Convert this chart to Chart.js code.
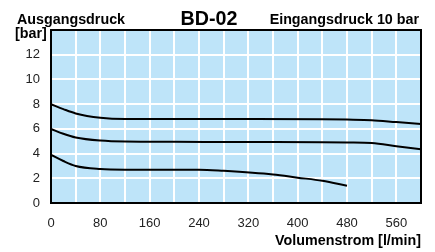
<!DOCTYPE html>
<html><head><meta charset="utf-8">
<script src="https://cdn.jsdelivr.net/npm/chart.js@4/dist/chart.umd.min.js"></script>
<style>html,body{margin:0;padding:0;background:#fff}#wrap{width:435px;height:252px;position:relative}</style>
</head><body><div id="wrap"><canvas id="c" width="435" height="252"></canvas></div>
<script>
const title = "BD-02";
const yAxisLabel = ["Ausgangsdruck", "[bar]"];
const inletLabel = "Eingangsdruck 10 bar";
const xAxisLabel = "Volumenstrom [l/min]";
const xTicks = [0, 80, 160, 240, 320, 400, 480, 560];
const yTicks = [0, 2, 4, 6, 8, 10, 12];
const flowTop = [0, 20, 40, 80, 120, 200, 320, 440, 480, 520, 560, 600];
const pressTop = [8.0, 7.6, 7.25, 6.9, 6.8, 6.8, 6.8, 6.78, 6.75, 6.7, 6.55, 6.4];
const flowMid = [0, 20, 40, 80, 120, 200, 320, 440, 480, 520, 560, 600];
const pressMid = [6.0, 5.6, 5.3, 5.05, 4.97, 4.95, 4.93, 4.92, 4.9, 4.85, 4.6, 4.35];
const flowLow = [0, 20, 40, 80, 120, 240, 280, 360, 400, 440, 480];
const pressLow = [3.9, 3.4, 3.0, 2.75, 2.7, 2.7, 2.6, 2.3, 2.05, 1.8, 1.4];

const pts = (xs, ys) => xs.map((x, i) => ({x: x, y: ys[i]}));
const mkSet = (xs, ys) => ({data: pts(xs, ys), borderColor: '#000', borderWidth: 2, pointRadius: 0, fill: false, cubicInterpolationMode: 'monotone'});

const FONT = "'Liberation Sans', Arial, sans-serif";

const deco = {
  id: 'deco',
  beforeDraw(chart) {
    const {ctx, chartArea: a} = chart;
    ctx.save();
    ctx.fillStyle = '#bee4f9';
    ctx.fillRect(a.left, a.top, a.right - a.left, a.bottom - a.top);
    ctx.restore();
  },
  afterDraw(chart) {
    const {ctx, chartArea: a} = chart;
    ctx.save();
    ctx.strokeStyle = '#000';
    ctx.lineWidth = 2;
    ctx.strokeRect(a.left, a.top, a.right - a.left, a.bottom - a.top);
    ctx.fillStyle = '#000';
    ctx.textBaseline = 'alphabetic';
    ctx.font = "bold 14.3px " + FONT;
    ctx.textAlign = 'left';
    ctx.fillText(yAxisLabel[0], 17, 24);
    ctx.fillText(yAxisLabel[1], 15, 38);
    ctx.textAlign = 'right';
    ctx.fillText(inletLabel, 419, 24);
    ctx.fillText(xAxisLabel, 421, 245);
    ctx.font = "bold 19.7px " + FONT;
    ctx.textAlign = 'center';
    ctx.fillText(title, 209, 25);
    ctx.restore();
  }
};

new Chart(document.getElementById('c'), {
  type: 'line',
  data: {datasets: [mkSet(flowTop, pressTop), mkSet(flowMid, pressMid), mkSet(flowLow, pressLow)]},
  options: {
    responsive: false, animation: false, devicePixelRatio: 1,
    layout: {padding: {left: 0, right: 14, top: 30, bottom: 0}},
    plugins: {legend: {display: false}, tooltip: {enabled: false}},
    scales: {
      x: {
        type: 'linear', min: 0, max: 600,
        afterFit(s) { s.height = 49; },
        afterBuildTicks(s) { const t = []; for (let v = 0; v <= 600; v += 40) t.push({value: v}); s.ticks = t; },
        grid: {color: '#fff', lineWidth: 2, drawTicks: false},
        border: {display: false},
        ticks: {
          padding: 13, color: '#222', font: {size: 13, family: FONT}, maxRotation: 0, autoSkip: false,
          callback: (v) => xTicks.includes(v) ? String(v) : ''
        }
      },
      y: {
        min: 0, max: 14,
        afterFit(s) { s.width = 51; },
        afterBuildTicks(s) { const t = []; for (let v = 0; v <= 14; v += 2) t.push({value: v}); s.ticks = t; },
        grid: {color: '#fff', lineWidth: 2, drawTicks: false},
        border: {display: false},
        ticks: {
          padding: 11, color: '#222', font: {size: 13, family: FONT}, autoSkip: false,
          callback: (v) => yTicks.includes(v) ? String(v) : ''
        }
      }
    }
  },
  plugins: [deco]
});
</script></body></html>
